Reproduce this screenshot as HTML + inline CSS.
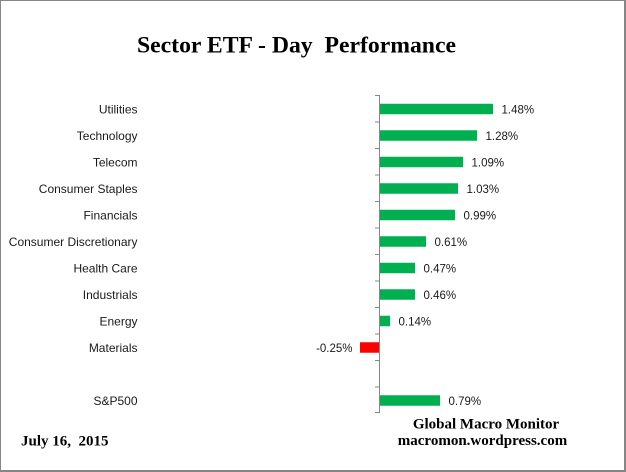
<!DOCTYPE html>
<html>
<head>
<meta charset="utf-8">
<style>
html,body{margin:0;padding:0;background:#fff;}
svg{display:block;}
.cat{font-family:"Liberation Sans",Arial,sans-serif;font-size:12px;fill:#1a1a1a;text-anchor:end;}
.val{font-family:"Liberation Sans",Arial,sans-serif;font-size:11.5px;fill:#1a1a1a;}
.ser{font-family:"Liberation Serif","Times New Roman",serif;font-weight:bold;fill:#000;}
</style>
</head>
<body>
<svg width="626" height="472" viewBox="0 0 626 472" xmlns="http://www.w3.org/2000/svg">
<rect x="0" y="0" width="626" height="472" fill="#fff"/>
<!-- border -->
<rect x="0.5" y="0.5" width="624" height="470" fill="none" stroke="#868686" stroke-width="1"/>
<line x1="625.5" y1="0" x2="625.5" y2="472" stroke="#868686" stroke-width="1"/>
<line x1="0" y1="471.5" x2="626" y2="471.5" stroke="#868686" stroke-width="1"/>

<!-- title -->
<text class="ser" x="296.5" y="52.5" font-size="23.7" text-anchor="middle" xml:space="preserve">Sector ETF - Day  Performance</text>

<!-- axis -->
<line x1="379.5" y1="95" x2="379.5" y2="413" stroke="#868686" stroke-width="1"/>
<g stroke="#868686" stroke-width="1">
<line x1="375" y1="95.5" x2="379" y2="95.5"/>
<line x1="375" y1="122" x2="379" y2="122"/>
<line x1="375" y1="148.5" x2="379" y2="148.5"/>
<line x1="375" y1="175" x2="379" y2="175"/>
<line x1="375" y1="201.5" x2="379" y2="201.5"/>
<line x1="375" y1="228" x2="379" y2="228"/>
<line x1="375" y1="254.5" x2="379" y2="254.5"/>
<line x1="375" y1="281" x2="379" y2="281"/>
<line x1="375" y1="307.5" x2="379" y2="307.5"/>
<line x1="375" y1="334" x2="379" y2="334"/>
<line x1="375" y1="360.5" x2="379" y2="360.5"/>
<line x1="375" y1="387" x2="379" y2="387"/>
<line x1="375" y1="412.5" x2="379" y2="412.5"/>
</g>

<!-- bars -->
<g fill="#00B050">
<rect x="380" y="103.75" width="113" height="10.5"/>
<rect x="380" y="130.25" width="97" height="10.5"/>
<rect x="380" y="156.75" width="83" height="10.5"/>
<rect x="380" y="183.25" width="78" height="10.5"/>
<rect x="380" y="209.75" width="75" height="10.5"/>
<rect x="380" y="236.25" width="46" height="10.5"/>
<rect x="380" y="262.75" width="35" height="10.5"/>
<rect x="380" y="289.25" width="35" height="10.5"/>
<rect x="380" y="315.75" width="10" height="10.5"/>
<rect x="380" y="395.25" width="60" height="10.5"/>
</g>
<rect x="360" y="342.25" width="19" height="10.5" fill="#FF0000"/>

<!-- category labels -->
<text class="cat" x="137.5" y="113.25">Utilities</text>
<text class="cat" x="137.5" y="139.75">Technology</text>
<text class="cat" x="137.5" y="166.25">Telecom</text>
<text class="cat" x="137.5" y="192.75">Consumer Staples</text>
<text class="cat" x="137.5" y="219.25">Financials</text>
<text class="cat" x="137.5" y="245.75">Consumer Discretionary</text>
<text class="cat" x="137.5" y="272.25">Health Care</text>
<text class="cat" x="137.5" y="298.75">Industrials</text>
<text class="cat" x="137.5" y="325.25">Energy</text>
<text class="cat" x="137.5" y="351.75">Materials</text>
<text class="cat" x="137.5" y="404.75">S&amp;P500</text>

<!-- value labels -->
<text class="val" x="501.5" y="113.25">1.48%</text>
<text class="val" x="485.5" y="139.75">1.28%</text>
<text class="val" x="471.5" y="166.25">1.09%</text>
<text class="val" x="466.5" y="192.75">1.03%</text>
<text class="val" x="463.5" y="219.25">0.99%</text>
<text class="val" x="434.5" y="245.75">0.61%</text>
<text class="val" x="423.5" y="272.25">0.47%</text>
<text class="val" x="423.5" y="298.75">0.46%</text>
<text class="val" x="398.5" y="325.25">0.14%</text>
<text class="val" x="352.5" y="351.75" text-anchor="end">-0.25%</text>
<text class="val" x="448.5" y="404.75">0.79%</text>

<!-- footer -->
<text class="ser" x="486" y="428.5" font-size="15" text-anchor="middle">Global Macro Monitor</text>
<text class="ser" x="482.5" y="445" font-size="15" text-anchor="middle">macromon.wordpress.com</text>
<text class="ser" x="21" y="445.5" font-size="15" xml:space="preserve">July 16,  2015</text>
</svg>
</body>
</html>
